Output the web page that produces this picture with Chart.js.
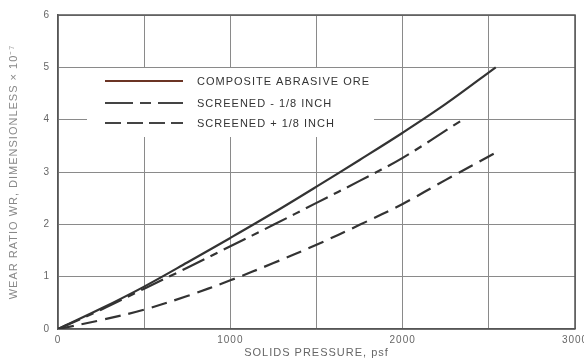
<!DOCTYPE html>
<html><head><meta charset="utf-8">
<script src="https://cdn.jsdelivr.net/npm/chart.js@4"></script>
<style>html,body{margin:0;padding:0;background:#fff;overflow:hidden}#wrap{width:584px;height:361px;position:relative}</style>
</head><body><div id="wrap"><canvas id="c" width="584" height="361"></canvas></div>
<script>
// Data
const pressureComposite = [0, 250, 500, 750, 1000, 1250, 1500, 1750, 2000, 2250, 2540];
const wearComposite     = [0, 0.39, 0.81, 1.27, 1.74, 2.22, 2.72, 3.23, 3.75, 4.30, 5.0];
const pressureMinus     = [0, 250, 500, 750, 1000, 1250, 1500, 1750, 2000, 2334];
const wearMinus         = [0, 0.37, 0.77, 1.17, 1.58, 1.99, 2.41, 2.83, 3.27, 3.97];
const pressurePlus      = [0, 250, 500, 750, 1000, 1250, 1500, 1750, 2000, 2250, 2540];
const wearPlus          = [0, 0.17, 0.37, 0.63, 0.93, 1.26, 1.61, 1.99, 2.39, 2.85, 3.37];
const seriesNames = ['COMPOSITE ABRASIVE ORE', 'SCREENED - 1/8 INCH', 'SCREENED + 1/8 INCH'];
const xTickLabels = [0, 1000, 2000, 3000];
const yTickLabels = [0, 1, 2, 3, 4, 5, 6];
const xTitle = 'SOLIDS PRESSURE, psf';
const yTitle = 'WEAR RATIO WR, DIMENSIONLESS \u00d7 10\u207b\u2077';

const toPts = (xs, ys) => xs.map((x, i) => ({x, y: ys[i]}));

const FONT = "'Liberation Sans', Arial, sans-serif";
const lineColor = '#333';
const legendStyles = [
  {color: '#6b3424', dash: []},
  {color: '#444', dash: [28, 7, 11, 7]},
  {color: '#444', dash: [16, 6]}
];

const spacingPlugin = {
  id: 'spacing',
  beforeDraw(chart) { chart.ctx.letterSpacing = '1px'; },
  afterDraw(chart) { chart.ctx.letterSpacing = '0px'; }
};

const legendPlugin = {
  id: 'customLegend',
  afterDatasetsDraw(chart) {
    const ctx = chart.ctx;
    ctx.save();
    ctx.fillStyle = '#fff';
    ctx.fillRect(87, 68, 287, 69);
    const rowsY = [81, 103, 123];
    seriesNames.forEach((name, i) => {
      const st = legendStyles[i];
      ctx.beginPath();
      ctx.setLineDash(st.dash);
      ctx.lineWidth = 2.2;
      ctx.strokeStyle = st.color;
      ctx.moveTo(105, rowsY[i]);
      ctx.lineTo(183, rowsY[i]);
      ctx.stroke();
      ctx.setLineDash([]);
      ctx.letterSpacing = '1px';
      ctx.fillStyle = '#333';
      ctx.font = "11px " + FONT;
      ctx.textBaseline = 'middle';
      ctx.textAlign = 'left';
      ctx.fillText(name, 197, rowsY[i] + 0.5);
    });
    ctx.restore();
  }
};

const common = {borderColor: lineColor, borderWidth: 2.2, pointRadius: 0, tension: 0.35, fill: false};

new Chart(document.getElementById('c'), {
  type: 'line',
  data: {
    datasets: [
      Object.assign({label: seriesNames[0], data: toPts(pressureComposite, wearComposite)}, common),
      Object.assign({label: seriesNames[1], data: toPts(pressureMinus, wearMinus), borderDash: [24, 7, 8, 7]}, common),
      Object.assign({label: seriesNames[2], data: toPts(pressurePlus, wearPlus), borderDash: [16, 8]}, common)
    ]
  },
  options: {
    responsive: false,
    devicePixelRatio: 1,
    animation: false,
    layout: {padding: {top: 15, right: 9, left: 0, bottom: 0}},
    plugins: {legend: {display: false}, tooltip: {enabled: false}},
    scales: {
      x: {
        type: 'linear', min: 0, max: 3000,
        ticks: {
          stepSize: 500, autoSkip: false, maxRotation: 0, padding: 5,
          color: '#666', font: {family: FONT, size: 10},
          callback: (v) => xTickLabels.includes(v) ? String(v) : ''
        },
        grid: {color: '#8a8a8a', lineWidth: 1, drawTicks: false},
        border: {color: '#555', width: 1.5},
        title: {display: true, text: xTitle, color: '#666', font: {family: FONT, size: 11}, padding: {top: 0, bottom: 1}},
        afterFit(s) { s.height = 32; s.paddingLeft = 0; s.paddingRight = 0; }
      },
      y: {
        type: 'linear', min: 0, max: 6,
        ticks: {
          stepSize: 1, padding: 8, color: '#666', font: {family: FONT, size: 10},
          callback: (v) => yTickLabels.includes(v) ? String(v) : ''
        },
        grid: {color: '#8a8a8a', lineWidth: 1, drawTicks: false},
        border: {color: '#555', width: 1.5},
        title: {display: true, text: yTitle, color: '#888', font: {family: FONT, size: 11}, padding: {top: 7, bottom: 0}},
        afterFit(s) { s.width = 58; s.paddingTop = 0; s.paddingBottom = 0; }
      }
    }
  },
  plugins: [spacingPlugin, legendPlugin, {
    id: 'frame',
    afterDatasetsDraw(chart) {
      const {ctx, chartArea: a} = chart;
      ctx.save();
      ctx.strokeStyle = '#555';
      ctx.lineWidth = 1.5;
      ctx.beginPath();
      ctx.moveTo(a.left, a.top); ctx.lineTo(a.right, a.top); ctx.lineTo(a.right, a.bottom);
      ctx.stroke();
      ctx.restore();
    }
  }]
});
</script>
</body></html>
